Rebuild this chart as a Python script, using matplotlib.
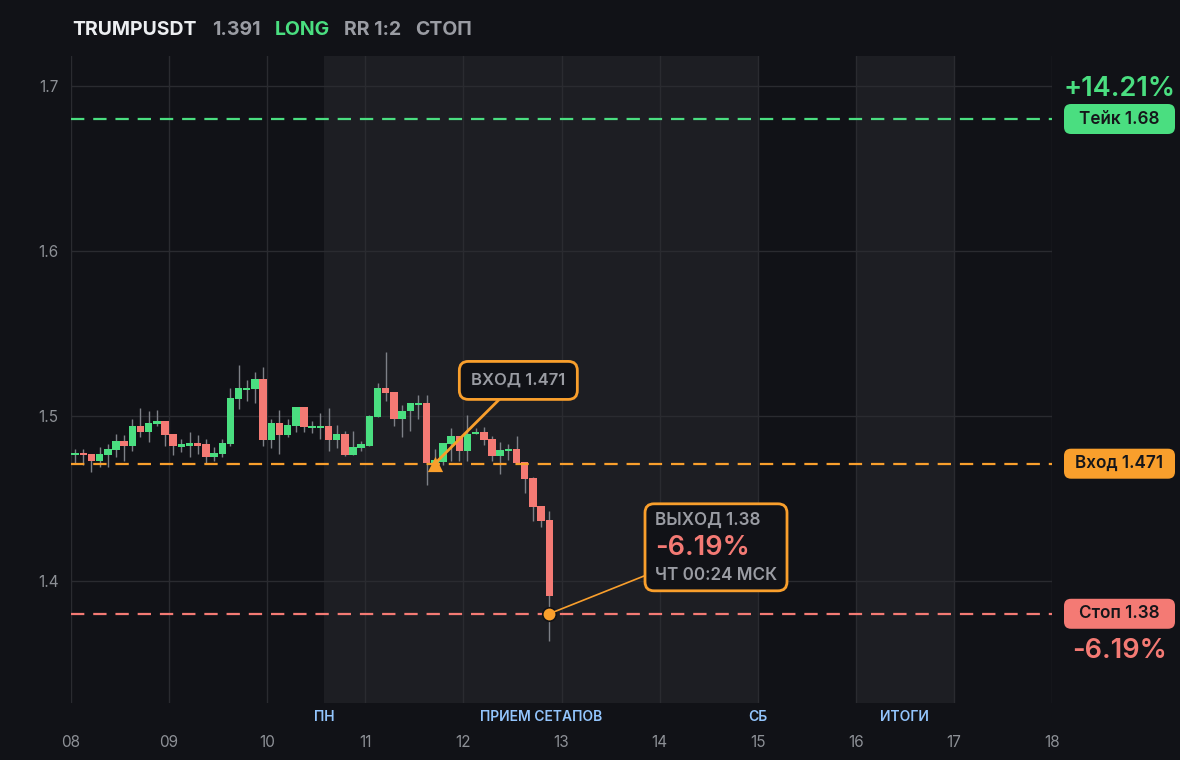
import matplotlib
matplotlib.use("Agg")
import matplotlib.pyplot as plt
from matplotlib.patches import FancyBboxPatch, Rectangle
from matplotlib.transforms import blended_transform_factory
import numpy as np

plt.rcParams['font.family'] = ['Inter', 'DejaVu Sans']

# ---------------- data ----------------
opens = [1.4760, 1.4772, 1.4766, 1.4729, 1.4760, 1.4796, 1.4845, 1.4820, 1.4936, 1.4905,
         1.4948, 1.4966, 1.4893, 1.4814, 1.4820, 1.4833, 1.4827, 1.4748, 1.4766, 1.4827,
         1.5100, 1.5155, 1.5161, 1.5221, 1.4851, 1.4954, 1.4887, 1.4936, 1.5051, 1.4924,
         1.4924, 1.4936, 1.4851, 1.4893, 1.4760, 1.4808, 1.4820, 1.4991, 1.5167, 1.5142,
         1.4978, 1.5027, 1.5064, 1.5076, 1.4717, 1.4722, 1.4827, 1.4875, 1.4790, 1.4893,
         1.4905, 1.4862, 1.4759, 1.4790, 1.4802, 1.4723, 1.4626, 1.4456, 1.4371]
highs = [1.4802, 1.4802, 1.4770, 1.4814, 1.4827, 1.4893, 1.4881, 1.4984, 1.5045, 1.5027,
         1.5033, 1.4966, 1.4893, 1.4857, 1.4905, 1.4881, 1.4857, 1.4814, 1.4857, 1.5167,
         1.5306, 1.5215, 1.5264, 1.5294, 1.4984, 1.5033, 1.4984, 1.5051, 1.5051, 1.4966,
         1.5015, 1.5045, 1.4942, 1.4911, 1.4911, 1.4845, 1.5003, 1.5197, 1.5385, 1.5142,
         1.5064, 1.5076, 1.5124, 1.5124, 1.4798, 1.4833, 1.4924, 1.4875, 1.5003, 1.4924,
         1.4935, 1.4875, 1.4844, 1.4832, 1.4875, 1.4723, 1.4632, 1.4456, 1.4425]
lows = [1.4709, 1.4705, 1.4658, 1.4689, 1.4689, 1.4750, 1.4729, 1.4790, 1.4869, 1.4839,
        1.4936, 1.4820, 1.4760, 1.4778, 1.4748, 1.4766, 1.4711, 1.4729, 1.4748, 1.4820,
        1.5039, 1.5088, 1.5076, 1.4820, 1.4808, 1.4766, 1.4869, 1.4905, 1.4905, 1.4899,
        1.4857, 1.4790, 1.4808, 1.4754, 1.4760, 1.4790, 1.4820, 1.4991, 1.5088, 1.4936,
        1.4869, 1.4911, 1.4978, 1.4578, 1.4690, 1.4700, 1.4729, 1.4729, 1.4729, 1.4893,
        1.4826, 1.4729, 1.4650, 1.4735, 1.4711, 1.4535, 1.4364, 1.4328, 1.3636]
closes = [1.4772, 1.4760, 1.4729, 1.4766, 1.4802, 1.4845, 1.4820, 1.4936, 1.4905, 1.4954,
          1.4966, 1.4887, 1.4820, 1.4827, 1.4833, 1.4820, 1.4748, 1.4772, 1.4833, 1.5106,
          1.5167, 1.5167, 1.5221, 1.4851, 1.4954, 1.4887, 1.4942, 1.5051, 1.4930, 1.4936,
          1.4936, 1.4851, 1.4893, 1.4760, 1.4814, 1.4827, 1.4997, 1.5167, 1.5136, 1.4978,
          1.5027, 1.5076, 1.5076, 1.4717, 1.4733, 1.4833, 1.4875, 1.4790, 1.4893, 1.4905,
          1.4856, 1.4759, 1.4796, 1.4802, 1.4717, 1.4620, 1.4450, 1.4364, 1.3909]

start_day = 8.0
candle_step = 1.0 / 12.0       # 2h candles, x in days
day_ticks = list(range(8, 19))
day_labels = ["08", "09", "10", "11", "12", "13", "14", "15", "16", "17", "18"]
y_ticks = [1.4, 1.5, 1.6, 1.7]
y_labels = ["1.4", "1.5", "1.6", "1.7"]

session_bands = [(10.583, 15.0), (16.0, 17.0)]
session_labels = [("ПН", 10.583), ("ПРИЕМ СЕТАПОВ", 12.79), ("СБ", 15.0), ("ИТОГИ", 16.5)]

take_price = 1.68
entry_price = 1.471
stop_price = 1.38
entry_index = 44
exit_index = 58
exit_price = 1.38
take_pct = "+14.21%"
stop_pct = "-6.19%"
ticker = "TRUMPUSDT"
last_price = "1.391"

# ---------------- style ----------------
BG = '#111217'
SHADE = '#1d1e23'
GRID = '#2a2b30'
GREEN = '#4ade80'
RED = '#f47a74'
ORANGE = '#f99f2c'
GRAY = '#9a9ca3'
TICK = '#8d9096'
BLUE = '#93c5fd'
WICK = '#7d8087'

W, H = 1180, 760
fig = plt.figure(figsize=(W / 100, H / 100), dpi=100, facecolor=BG)
ax = fig.add_axes([71 / W, 57 / H, (1052 - 71) / W, (704 - 57) / H])
ax.set_facecolor(BG)
ax.set_xlim(8, 18)
ax.set_ylim(1.3259, 1.7182)
for s in ax.spines.values():
    s.set_visible(False)

for a, b in session_bands:
    ax.axvspan(a, b, color=SHADE, zorder=0, lw=0)

ax.set_xticks(day_ticks)
ax.set_xticklabels(day_labels)
ax.set_yticks(y_ticks)
ax.set_yticklabels(y_labels)
ax.tick_params(axis='both', length=0, colors=TICK, labelsize=11)
ax.tick_params(axis='x', pad=23)
ax.tick_params(axis='y', pad=9)
ax.grid(True, color=GRID, lw=1, zorder=0.5)
ax.set_axisbelow(True)

bt = blended_transform_factory(ax.transData, ax.transAxes)
for lab, xpos in session_labels:
    ax.text(xpos, -0.021, lab, transform=bt, ha='center', va='center', color=BLUE,
            fontsize=10, fontweight='semibold')

# candles
xs = start_day + (np.arange(len(opens)) + 0.5) * candle_step
bw = 0.076
for x, o, h, l, c in zip(xs, opens, highs, lows, closes):
    col = GREEN if c >= o else RED
    ax.vlines(x, l, h, color=WICK, lw=1, zorder=2)
    lo, hi = min(o, c), max(o, c)
    ax.add_patch(Rectangle((x - bw / 2, lo), bw, max(hi - lo, 0.0006), facecolor=col,
                           edgecolor='none', zorder=3))

# level lines
ax.axhline(take_price, color=GREEN, lw=1.6, dashes=(6, 4), zorder=4)
ax.axhline(entry_price, color=ORANGE, lw=1.6, dashes=(6, 4), zorder=4)
ax.axhline(stop_price, color=RED, lw=1.6, dashes=(6, 4), zorder=4)

# markers
ex_x = xs[entry_index]
ax.scatter([ex_x], [entry_price], marker='^', s=120, color=ORANGE, zorder=6, lw=0)
xx = xs[exit_index]
ax.scatter([xx], [exit_price], marker='o', s=95, color=ORANGE, edgecolor=BG, lw=1.2, zorder=6)

# ---------------- overlay in pixel coords ----------------
ov = fig.add_axes([0, 0, 1, 1], facecolor='none')
ov.set_xlim(0, W)
ov.set_ylim(0, H)
ov.axis('off')

def px(x, y):
    return ax.transData.transform((x, y))

def top(y):
    return H - y

# header
hdr_y = top(35)
ov.text(72, hdr_y, ticker, color='#eceef1', fontsize=14, fontweight='bold', va='baseline')
ov.text(212, hdr_y, last_price, color=GRAY, fontsize=14, fontweight='bold', va='baseline')
ov.text(275, hdr_y, "LONG", color=GREEN, fontsize=14, fontweight='bold', va='baseline')
ov.text(344, hdr_y, "RR 1:2", color=GRAY, fontsize=14, fontweight='bold', va='baseline')
ov.text(415, hdr_y, "СТОП", color=GRAY, fontsize=14, fontweight='bold', va='baseline')

# entry annotation box
tri = px(ex_x, entry_price)
ebox = px(12.56, 1.5215)
bw_e, bh_e = 118, 38
ov.plot([tri[0], ebox[0]], [tri[1], ebox[1]], color=ORANGE, lw=2, zorder=5)
ov.add_patch(FancyBboxPatch((ebox[0] - bw_e / 2, ebox[1] - bh_e / 2), bw_e, bh_e,
                            boxstyle='round,pad=0,rounding_size=9', facecolor=BG,
                            edgecolor=ORANGE, lw=2, zorder=6))
ov.text(ebox[0], ebox[1], "ВХОД 1.471", color=GRAY, fontsize=12, fontweight='semibold',
        ha='center', va='center', zorder=7)

# exit annotation box
dot = px(xx, exit_price)
xb = px(14.575, 1.4203)
bw_x, bh_x = 142, 87
ov.plot([dot[0], xb[0]], [dot[1], xb[1]], color=ORANGE, lw=1.2, zorder=5)
ov.add_patch(FancyBboxPatch((xb[0] - bw_x / 2, xb[1] - bh_x / 2), bw_x, bh_x,
                            boxstyle='round,pad=0,rounding_size=9', facecolor=BG,
                            edgecolor=ORANGE, lw=2, zorder=6))
lx = xb[0] - bw_x / 2 + 10
ov.text(lx, xb[1] + 27, "ВЫХОД 1.38", color=GRAY, fontsize=12.3, fontweight='semibold',
        ha='left', va='center', zorder=7)
ov.text(lx, xb[1] - 1, stop_pct, color=RED, fontsize=19.5, fontweight='semibold',
        ha='left', va='center', zorder=7)
ov.text(lx, xb[1] - 28, "ЧТ 00:24 МСК", color=GRAY, fontsize=12.3, fontweight='semibold',
        ha='left', va='center', zorder=7)

# right-hand pills
pill_x0, pill_w, pill_h = 1064, 111, 30
for price, label, col in [(take_price, "Тейк 1.68", GREEN),
                          (entry_price, "Вход 1.471", ORANGE),
                          (stop_price, "Стоп 1.38", RED)]:
    yp = px(18, price)[1]
    ov.add_patch(FancyBboxPatch((pill_x0, yp - pill_h / 2), pill_w, pill_h,
                                boxstyle='round,pad=0,rounding_size=7', facecolor=col,
                                edgecolor='none', zorder=6))
    ov.text(pill_x0 + pill_w / 2, yp, label, color='#15161a', fontsize=12.3,
            fontweight='semibold', ha='center', va='center', zorder=7)

ov.text(1119, top(89), take_pct, color=GREEN, fontsize=19.5, fontweight='semibold',
        ha='center', va='center')
ov.text(1119, top(651), stop_pct, color=RED, fontsize=19.5, fontweight='semibold',
        ha='center', va='center')

fig.savefig("out.png", dpi=100, facecolor=BG)
